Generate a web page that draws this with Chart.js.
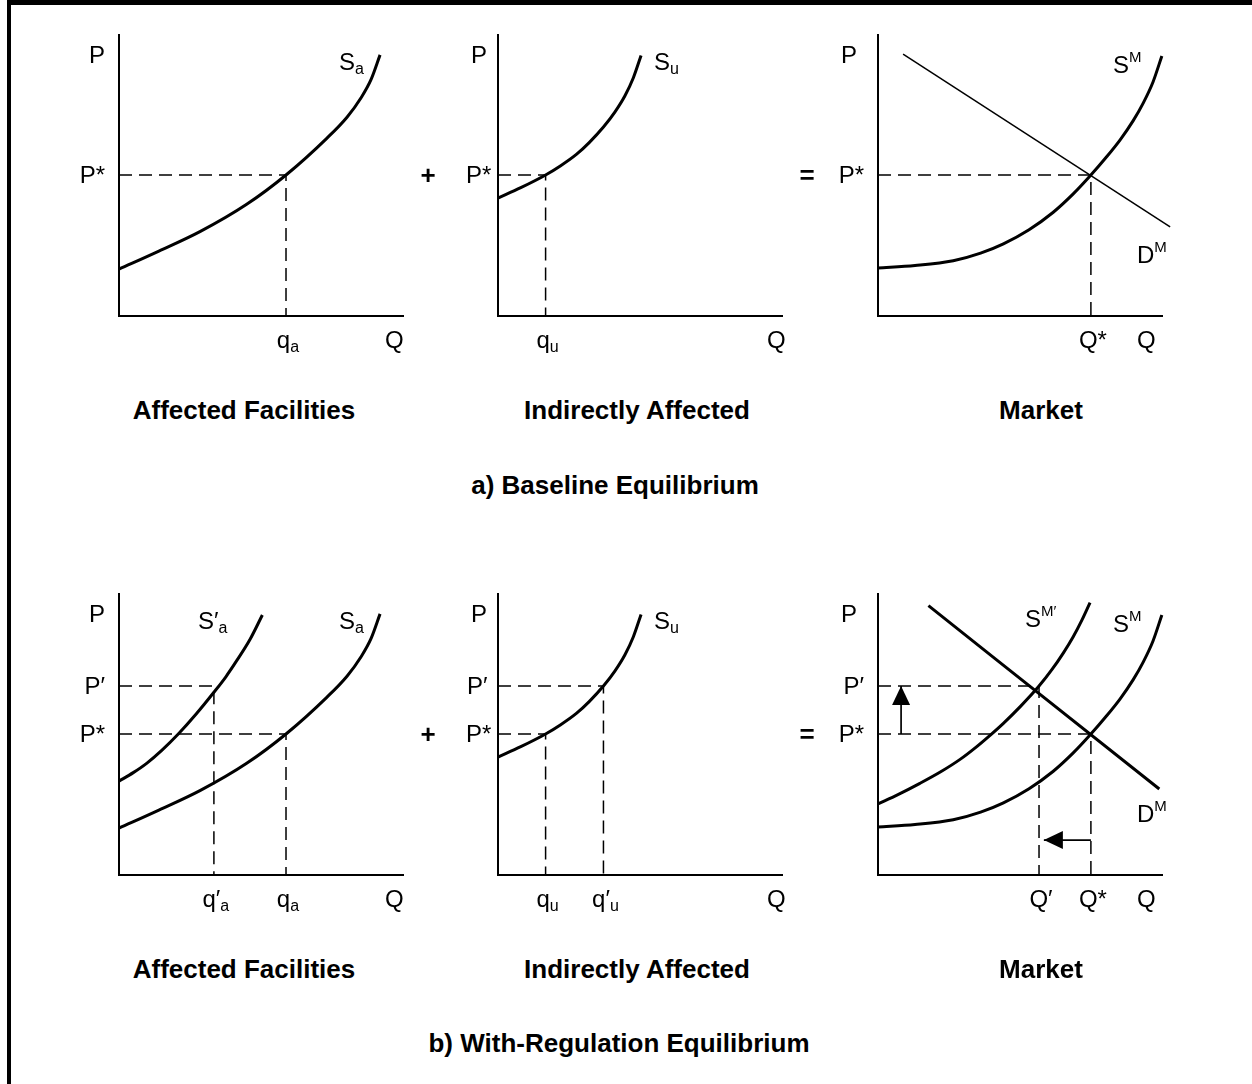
<!DOCTYPE html>
<html>
<head>
<meta charset="utf-8">
<script src="https://cdn.jsdelivr.net/npm/chart.js@4.4.1/dist/chart.umd.min.js"></script>
<style>
  html, body { margin: 0; padding: 0; background: #fff; }
  #page { position: relative; width: 1252px; height: 1084px; overflow: hidden; background: #fff;
          font-family: "Liberation Sans", Arial, sans-serif; color: #000; }
  #frame { position: absolute; left: 7px; top: 0; width: 1245px; height: 1084px; box-sizing: border-box;
           border-left: 4px solid #000; border-top: 5px solid #000; }
  canvas { position: absolute; }
  .lbl { position: absolute; white-space: nowrap; line-height: 0; }
  .lbl span { position: relative; }
</style>
</head>
<body>
<div id="page"><div id="frame"></div></div>
<script>
// values in axis units: Q runs 0-100 left to right, P runs 0-100 bottom to top
const pStar = 50;
const pPrime = 67;

// affected facilities
const saQ = [0, 14, 28.4, 44.8, 58.6, 72.9, 80, 85, 88.5, 91.6];
const saP = [16.6, 23, 29.9, 39.6, 50, 63, 70.5, 77.5, 84, 92.6];
const saRegQ = [0, 5, 9.7, 15, 20.8, 27, 33.3, 37.5, 41.3, 46, 50.3];
const saRegP = [33.3, 36.3, 39.6, 44.2, 50, 57, 64.8, 70.3, 76, 83.6, 92.2];
const qa = 58.6;
const qaReg = 33.3;

// indirectly affected
const suQ = [0, 8, 16.7, 22, 27.5, 32, 37, 41, 44.5, 47.5, 50.2];
const suP = [41.8, 45.5, 50, 53.3, 57.3, 61.5, 67, 72.3, 78, 84.5, 92.4];
const qu = 16.7;
const quReg = 37;

// market
const smQ = [0, 13, 26.4, 36, 44, 53, 61.5, 68.5, 74.7, 80, 84.9, 89.5, 93.1, 96.5, 99.6];
const smP = [17, 17.9, 19.6, 22.3, 25.6, 30.6, 36.8, 43.3, 50, 56.2, 62.4, 69.2, 75.6, 83, 92.2];
const smRegQ = [0, 7, 14.7, 22, 28.8, 34, 38.7, 44, 50, 56.5, 61, 65, 68.5, 71.5, 74.4];
const smRegP = [25.2, 28.5, 32.5, 36.6, 41, 45, 49, 53.8, 59.8, 67, 72.8, 78.7, 84.5, 90.3, 96.6];
const dmQ = [8.8, 102.5];
const dmP = [92.9, 31.6];
const dmRegQ = [17.7, 98.7];
const dmRegP = [95.5, 30.5];
const qStar = 74.7;
const qReg = 56.5;

// shift arrows in the market panel
const priceArrowQ = [8.1, 8.1];
const priceArrowP = [pStar, pPrime];
const qtyArrowQ = [qStar, 58.2];
const qtyArrowP = [12.4, 12.4];

const W = 285, H = 282, PAD = 25;
const page = document.getElementById('page');

function pts(qs, ps) {
    return qs.map((q, i) => ({ x: q, y: ps[i] }));
}

// supply / demand curve
function curve(qs, ps, width) {
    return {
        data: pts(qs, ps), showLine: true, pointRadius: 0,
        borderColor: '#000', borderWidth: width || 3,
        cubicInterpolationMode: 'monotone', clip: false
    };
}

// dashed guide from the P axis to the curve and down to the Q axis
function guide(q, p) {
    return {
        data: [{ x: 0, y: p }, { x: q, y: p }, { x: q, y: 0 }],
        showLine: true, pointRadius: 0, borderColor: '#000',
        borderWidth: 1.5, borderDash: [13, 7], tension: 0, clip: false
    };
}

function arrow(qs, ps) {
    return {
        data: pts(qs, ps), showLine: true, pointRadius: 0, borderColor: '#000',
        borderWidth: 1.7, tension: 0, clip: false, arrowHead: true
    };
}

// L shaped axes drawn on the scales' own zero / max
const axesPlugin = {
    id: 'axes',
    beforeDatasetsDraw(chart) {
        const { ctx, scales: { x, y } } = chart;
        ctx.save();
        ctx.strokeStyle = '#000';
        ctx.lineWidth = 2;
        ctx.beginPath();
        ctx.moveTo(x.getPixelForValue(0), y.getPixelForValue(100));
        ctx.lineTo(x.getPixelForValue(0), y.getPixelForValue(0));
        ctx.lineTo(x.getPixelForValue(100), y.getPixelForValue(0));
        ctx.stroke();
        ctx.restore();
    }
};

const arrowPlugin = {
    id: 'arrowHeads',
    afterDatasetsDraw(chart) {
        const ctx = chart.ctx;
        chart.data.datasets.forEach((ds, i) => {
            if (!ds.arrowHead) return;
            const els = chart.getDatasetMeta(i).data;
            const a = els[els.length - 2], b = els[els.length - 1];
            const ang = Math.atan2(b.y - a.y, b.x - a.x);
            ctx.save();
            ctx.translate(b.x, b.y);
            ctx.rotate(ang);
            ctx.fillStyle = '#000';
            ctx.beginPath();
            ctx.moveTo(0, 0);
            ctx.lineTo(-19, 9);
            ctx.lineTo(-19, -9);
            ctx.closePath();
            ctx.fill();
            ctx.restore();
        });
    }
};

function panel(ox, oy, datasets) {
    const c = document.createElement('canvas');
    c.width = W + 2 * PAD;
    c.height = H + 2 * PAD;
    c.style.left = (ox - PAD) + 'px';
    c.style.top = (oy - H - PAD) + 'px';
    page.appendChild(c);
    const chart = new Chart(c, {
        type: 'scatter',
        data: { datasets: datasets },
        options: {
            responsive: false,
            animation: false,
            devicePixelRatio: 1,
            events: [],
            layout: { padding: PAD },
            scales: {
                x: { type: 'linear', min: 0, max: 100, display: false },
                y: { type: 'linear', min: 0, max: 100, display: false }
            },
            plugins: { legend: { display: false }, tooltip: { enabled: false } }
        },
        plugins: [axesPlugin, arrowPlugin]
    });
    return {
        ox: ox, oy: oy,
        px: v => ox - PAD + chart.scales.x.getPixelForValue(v),
        py: v => oy - H - PAD + chart.scales.y.getPixelForValue(v)
    };
}

function text(html, x, baseline, align, size, bold) {
    const d = document.createElement('div');
    d.className = 'lbl';
    d.innerHTML = html;
    d.style.fontSize = size + 'px';
    d.style.top = (baseline - 0.3465 * size) + 'px';
    d.style.left = x + 'px';
    if (bold) d.style.fontWeight = 'bold';
    if (align === 'center') d.style.transform = 'translateX(-50%)';
    if (align === 'right') d.style.transform = 'translateX(-100%)';
    page.appendChild(d);
}
const sub = t => '<span style="font-size:16px;top:4px">' + t + '</span>';
const sup = t => '<span style="font-size:15px;top:-11px">' + t + '</span>';
const FS = 24;

// tick-like labels tied to the scales
function pLabel(p, html, val, x, align) { text(html, x, p.py(val) + 8.5, align, FS); }
function qLabel(p, html, val) { text(html, p.px(val) + 2, p.oy + 32, 'center', FS); }

const rows = [0, 559];
rows.forEach((dy, r) => {
    const reg = r === 1;
    const oy = 316 + dy;

    // Affected facilities
    const ds1 = [guide(qa, pStar)];
    if (reg) ds1.push(guide(qaReg, pPrime), curve(saRegQ, saRegP));
    ds1.push(curve(saQ, saP));
    const p1 = panel(119, oy, ds1);
    text('P', 89, oy - 253, 'left', FS);
    text('Q', 385, oy + 32, 'left', FS);
    pLabel(p1, 'P*', pStar, 105, 'right');
    qLabel(p1, 'q' + sub('a'), qa);
    text('S' + sub('a'), 339, oy - 246, 'left', FS);
    if (reg) {
        pLabel(p1, 'P′', pPrime, 105, 'right');
        qLabel(p1, 'q′' + sub('a'), qaReg);
        text('S′' + sub('a'), 198, oy - 246, 'left', FS);
    }

    // Indirectly affected
    const ds2 = [guide(qu, pStar)];
    if (reg) ds2.push(guide(quReg, pPrime));
    ds2.push(curve(suQ, suP));
    const p2 = panel(498, oy, ds2);
    text('P', 471, oy - 253, 'left', FS);
    text('Q', 767, oy + 32, 'left', FS);
    pLabel(p2, 'P*', pStar, 466, 'left');
    qLabel(p2, 'q' + sub('u'), qu);
    text('S' + sub('u'), 654, oy - 246, 'left', FS);
    if (reg) {
        pLabel(p2, 'P′', pPrime, 467, 'left');
        qLabel(p2, 'q′' + sub('u'), quReg);
    }

    // Market
    const ds3 = [guide(qStar, pStar)];
    if (reg) {
        ds3.push(guide(qReg, pPrime), arrow(priceArrowQ, priceArrowP), arrow(qtyArrowQ, qtyArrowP));
        ds3.push(curve(smRegQ, smRegP), curve(dmRegQ, dmRegP, 3));
    } else {
        ds3.push(curve(dmQ, dmP, 1.5));
    }
    ds3.push(curve(smQ, smP));
    const p3 = panel(878, oy, ds3);
    text('P', 841, oy - 253, 'left', FS);
    text('Q', 1137, oy + 32, 'left', FS);
    pLabel(p3, 'P*', pStar, 864, 'right');
    qLabel(p3, 'Q*', qStar);
    text('S' + sup('M'), 1113, oy - 243, 'left', FS);
    text('D' + sup('M'), 1137, oy - 53, 'left', FS);
    if (reg) {
        pLabel(p3, 'P′', pPrime, 864, 'right');
        qLabel(p3, 'Q′', qReg);
        text('S' + sup('M′'), 1025, oy - 248, 'left', FS);
    }

    // "+" and "=" between panels
    text('+', 428, p1.py(pStar) + 9, 'center', 26, true);
    text('=', 807, p1.py(pStar) + 9, 'center', 26, true);

    // panel titles
    text('Affected Facilities', 244, 419 + dy, 'center', 26, true);
    text('Indirectly Affected', 637, 419 + dy, 'center', 26, true);
    text('Market', 1041, 419 + dy, 'center', 26, true);
});

text('a) Baseline Equilibrium', 615, 494, 'center', 26, true);
text('b) With-Regulation Equilibrium', 619, 1052, 'center', 26, true);
</script>
</body>
</html>
